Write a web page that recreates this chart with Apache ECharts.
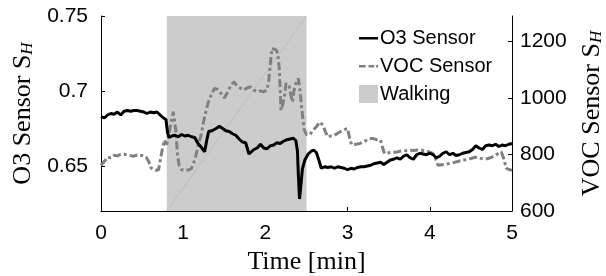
<!DOCTYPE html>
<html>
<head>
<meta charset="utf-8">
<script src="https://cdn.jsdelivr.net/npm/echarts@6/dist/echarts.min.js"></script>
<style>
  html, body { margin: 0; padding: 0; background: #fff; }
  #chart { width: 606px; height: 276px; }
</style>
</head>
<body>
<div id="chart"></div>
<script>
// time [min] and O3 sensor readings (left axis)
var o3Time = [0.00, 0.04, 0.08, 0.12, 0.16, 0.20, 0.24, 0.28, 0.32, 0.36, 0.40, 0.44, 0.48, 0.52, 0.56, 0.60, 0.64, 0.68, 0.72, 0.76, 0.79,
  0.81, 0.83, 0.86, 0.90, 0.94, 0.98, 1.02, 1.06, 1.10, 1.14, 1.18, 1.22, 1.26, 1.29, 1.31, 1.35, 1.40, 1.44, 1.48, 1.52, 1.56, 1.60,
  1.64, 1.68, 1.72, 1.76, 1.80, 1.82, 1.86, 1.90, 1.94, 1.98, 2.02, 2.06, 2.10, 2.14, 2.18, 2.22, 2.26, 2.30, 2.34, 2.37, 2.39, 2.40,
  2.415, 2.43, 2.45, 2.48, 2.52, 2.56, 2.59, 2.62, 2.65, 2.68, 2.72, 2.76, 2.80, 2.84, 2.88, 2.92, 2.96, 3.00, 3.04, 3.08, 3.12, 3.16,
  3.20, 3.24, 3.28, 3.32, 3.36, 3.40, 3.44, 3.48, 3.52, 3.56, 3.60, 3.64, 3.68, 3.72, 3.76, 3.80, 3.84, 3.88, 3.92, 3.96, 4.00, 4.04,
  4.08, 4.12, 4.16, 4.20, 4.24, 4.28, 4.32, 4.36, 4.40, 4.44, 4.48, 4.52, 4.56, 4.60, 4.64, 4.68, 4.72, 4.76, 4.80, 4.84, 4.88, 4.92,
  4.96, 5.00]
var o3Values = [0.683, 0.682, 0.684, 0.685, 0.6845, 0.686, 0.684, 0.6865, 0.687, 0.6865, 0.687, 0.687, 0.6865, 0.686, 0.685, 0.686, 0.6855, 0.686, 0.684, 0.682, 0.681,
  0.672, 0.669, 0.670, 0.6705, 0.6695, 0.671, 0.670, 0.6705, 0.6695, 0.669, 0.665, 0.6625, 0.6595, 0.668, 0.673, 0.6735, 0.675, 0.6765, 0.675, 0.6735, 0.673, 0.6715,
  0.6705, 0.668, 0.666, 0.6655, 0.658, 0.6585, 0.661, 0.662, 0.6645, 0.662, 0.6615, 0.6635, 0.664, 0.6655, 0.665, 0.6665, 0.6675, 0.668, 0.6685, 0.667, 0.660, 0.645,
  0.628, 0.636, 0.648, 0.654, 0.658, 0.660, 0.6605, 0.659, 0.654, 0.6485, 0.6495, 0.649, 0.6495, 0.6485, 0.6495, 0.649, 0.6485, 0.6475, 0.6485, 0.648, 0.649, 0.6495,
  0.6495, 0.650, 0.6505, 0.6515, 0.652, 0.6525, 0.651, 0.6525, 0.654, 0.6545, 0.6555, 0.6545, 0.6565, 0.6575, 0.6555, 0.6545, 0.6575, 0.6585, 0.658, 0.6575, 0.6585, 0.6575,
  0.6555, 0.6565, 0.6585, 0.6595, 0.6575, 0.6585, 0.657, 0.6575, 0.6585, 0.659, 0.6595, 0.661, 0.6635, 0.662, 0.661, 0.6635, 0.664, 0.6635, 0.6645, 0.663, 0.664, 0.6635,
  0.6645, 0.665]

// time [min] and VOC sensor readings (right axis)
var vocTime = [0.00, 0.04, 0.08, 0.12, 0.16, 0.20, 0.24, 0.28, 0.32, 0.36, 0.40, 0.44, 0.48, 0.52, 0.55, 0.58, 0.61, 0.64, 0.67, 0.70, 0.72,
  0.74, 0.77, 0.80, 0.82, 0.85, 0.88, 0.91, 0.93, 0.95, 0.98, 1.02, 1.06, 1.10, 1.14, 1.18, 1.22, 1.26, 1.30, 1.34, 1.38, 1.42, 1.46,
  1.50, 1.54, 1.58, 1.62, 1.66, 1.70, 1.74, 1.78, 1.82, 1.86, 1.90, 1.94, 1.98, 2.02, 2.04, 2.06, 2.08, 2.10, 2.13, 2.15, 2.17, 2.19,
  2.21, 2.23, 2.25, 2.27, 2.29, 2.31, 2.33, 2.35, 2.37, 2.40, 2.42, 2.44, 2.47, 2.50, 2.54, 2.58, 2.62, 2.66, 2.70, 2.73, 2.76, 2.80,
  2.84, 2.88, 2.92, 2.96, 3.00, 3.03, 3.05, 3.10, 3.15, 3.20, 3.25, 3.30, 3.36, 3.40, 3.43, 3.45, 3.50, 3.55, 3.60, 3.65, 3.70, 3.75,
  3.80, 3.85, 3.90, 3.95, 4.00, 4.04, 4.07, 4.10, 4.15, 4.20, 4.24, 4.30, 4.35, 4.40, 4.45, 4.50, 4.55, 4.60, 4.65, 4.70, 4.75, 4.80,
  4.84, 4.87, 4.90, 4.93, 4.97, 5.00]
var vocValues = [762, 775, 791, 788, 797, 795, 800, 801, 798, 796, 794, 799, 797, 796, 790, 775, 752, 747, 744, 746, 752,
  809, 851, 835, 830, 910, 951, 886, 800, 762, 746, 744, 745, 750, 780, 827, 874, 933, 980, 1010, 1034, 1030, 1016,
  1000, 1020, 1045, 1057, 1040, 1034, 1028, 1036, 1039, 1028, 1022, 1025, 1022, 1028, 1060, 1120, 1176, 1181, 1170, 1158, 1099, 957,
  975, 1000, 1052, 1045, 1040, 1010, 986, 1030, 1052, 1069, 1030, 969, 890, 870, 870, 886, 898, 915, 904, 880, 862, 866,
  868, 875, 882, 888, 892, 850, 834, 836, 839, 845, 855, 857, 852, 851, 820, 803, 806, 808, 809, 812, 813, 815,
  814, 816, 815, 814, 808, 803, 785, 762, 764, 766, 768, 772, 776, 780, 782, 786, 790, 788, 784, 785, 790, 797,
  805, 809, 785, 752, 746, 744]

// walking interval [min]
var walkStart = 0.8
var walkEnd = 2.5

var leftTicks = [0.65, 0.7, 0.75]
var rightTicks = [600, 800, 1000, 1200]
var xTicks = [0, 1, 2, 3, 4, 5]

function pairs(xs, ys) {
  return xs.map(function(x, i) { return [x, ys[i]] })
}

var chart = echarts.init(document.getElementById('chart'))
var labelFont = { fontFamily: 'Liberation Sans, Arial, sans-serif', fontSize: 21, color: '#000' }
var serif = 'Liberation Serif, serif'
var titleRich = {
  t: { fontFamily: serif, fontSize: 26, fontWeight: 'normal', color: '#000' },
  s: { fontFamily: serif, fontSize: 17, fontWeight: 'normal', fontStyle: 'italic', color: '#000', verticalAlign: 'bottom' }
}
// legend icons: solid line, dash-dot line (invisible corner points keep the box size)
var solidIcon = 'path://M0,0 L0,0 M0,8 L20,8 L20,10.6 L0,10.6 Z M20,18 L20,18'
var dashDotIcon = 'path://M0,0 L0,0 M0,8 L7,8 L7,10.6 L0,10.6 Z M10,8 L16,8 L16,10.6 L10,10.6 Z M18,8 L20,8 L20,10.6 L18,10.6 Z M20,18 L20,18'

chart.setOption({
  animation: false,
  grid: { left: 101, right: 94, top: 16, bottom: 65, outerBoundsMode: 'none' },
  legend: {
    left: 354,
    top: 23,
    orient: 'vertical',
    itemWidth: 19,
    itemHeight: 18,
    itemGap: 8,
    textStyle: { fontFamily: 'Liberation Sans, Arial, sans-serif', fontSize: 20, color: '#000', padding: [0, 0, 0, -3] },
    data: [
      { name: 'O3 Sensor', icon: solidIcon, itemStyle: { color: '#000' } },
      { name: 'VOC Sensor', icon: dashDotIcon, itemStyle: { color: '#808080' } },
      { name: 'Walking', icon: 'rect', itemStyle: { color: '#cccccc' } }
    ]
  },
  xAxis: {
    type: 'value',
    min: 0,
    max: 5,
    interval: 1,
    name: 'Time [min]',
    nameLocation: 'middle',
    nameGap: 30,
    nameTextStyle: { fontFamily: serif, fontSize: 26, fontWeight: 'normal', color: '#000' },
    axisLine: { lineStyle: { color: '#000', width: 1 } },
    axisTick: { inside: true, length: 4, lineStyle: { color: '#000' }, customValues: xTicks },
    axisLabel: Object.assign({ margin: 12, customValues: xTicks }, labelFont),
    splitLine: { show: false }
  },
  yAxis: [
    {
      type: 'value',
      min: 0.62,
      max: 0.75,
      position: 'left',
      name: '{t|O3 Sensor S}{s|H}',
      nameLocation: 'middle',
      nameRotate: 90,
      nameGap: 64,
      nameTextStyle: { fontWeight: 'normal', rich: titleRich },
      axisLine: { show: true, lineStyle: { color: '#000', width: 1 } },
      axisTick: { show: true, inside: true, length: 4, lineStyle: { color: '#000' }, customValues: leftTicks },
      axisLabel: Object.assign({ margin: 13, customValues: leftTicks }, labelFont),
      splitLine: { show: false }
    },
    {
      type: 'value',
      min: 600,
      max: 1290,
      position: 'right',
      name: '{t|VOC Sensor S}{s|H}',
      nameLocation: 'middle',
      nameRotate: 90,
      nameGap: 67,
      nameTextStyle: { fontWeight: 'normal', rich: titleRich },
      axisLine: { show: true, lineStyle: { color: '#000', width: 1 } },
      axisTick: { show: true, inside: true, length: 4, lineStyle: { color: '#000' }, customValues: rightTicks },
      axisLabel: Object.assign({ margin: 8, customValues: rightTicks, formatter: function(v) { return String(v) } }, labelFont),
      splitLine: { show: false }
    }
  ],
  series: [
    {
      name: 'Walking',
      type: 'line',
      z: 1,
      yAxisIndex: 0,
      symbol: 'none',
      data: [[walkStart, 0.62], [walkEnd, 0.75]],
      lineStyle: { color: '#b4b4b4', width: 0.6 },
      itemStyle: { color: '#cccccc' },
      markArea: {
        silent: true,
        itemStyle: { color: '#cccccc' },
        data: [[{ xAxis: walkStart }, { xAxis: walkEnd }]]
      }
    },
    {
      name: 'VOC Sensor',
      type: 'line',
      z: 3,
      yAxisIndex: 1,
      symbol: 'none',
      data: pairs(vocTime, vocValues),
      itemStyle: { color: '#808080' },
      lineStyle: { color: '#808080', width: 3, type: [8, 3, 3, 3], cap: 'butt' }
    },
    {
      name: 'O3 Sensor',
      type: 'line',
      z: 4,
      yAxisIndex: 0,
      symbol: 'none',
      data: pairs(o3Time, o3Values),
      itemStyle: { color: '#000' },
      lineStyle: { color: '#000', width: 3 }
    }
  ]
})
</script>
</body>
</html>
